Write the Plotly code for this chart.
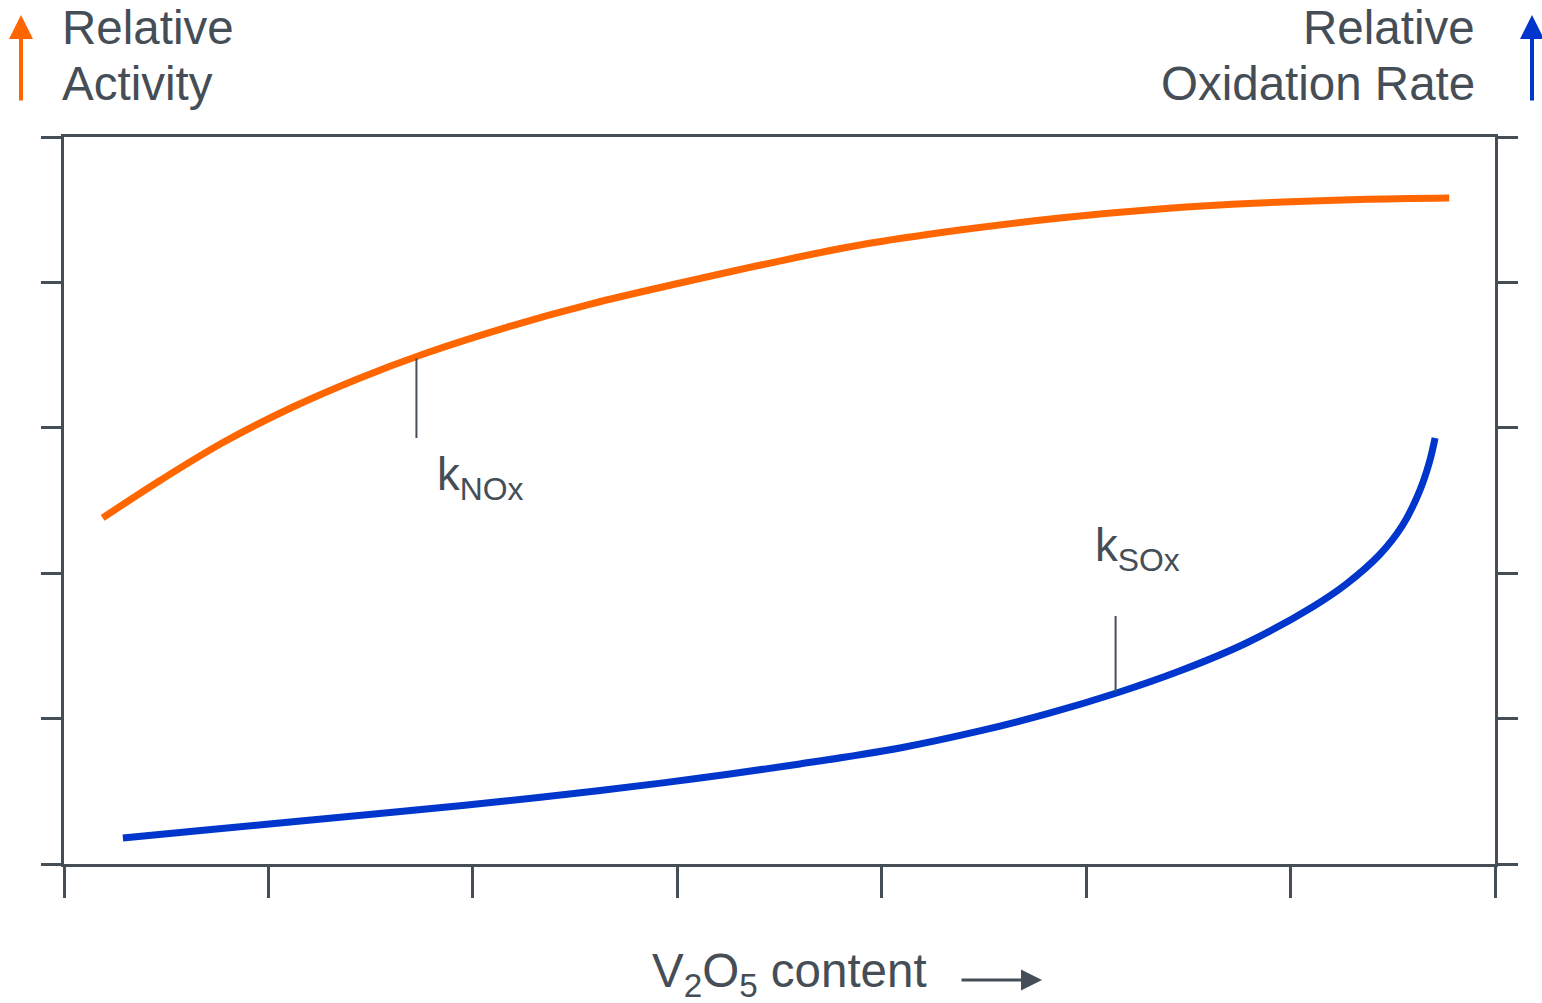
import plotly.graph_objects as go

# ---- data ----
nox_x = [0.189, 0.474, 0.782, 1.109, 1.436, 1.759, 2.169, 2.575, 3.014, 3.454, 3.893, 4.382,
         4.871, 5.359, 5.848, 6.336, 6.776]
nox_y = [2.380, 2.641, 2.902, 3.136, 3.336, 3.508, 3.693, 3.851, 3.996, 4.133, 4.257, 4.360,
         4.443, 4.505, 4.546, 4.570, 4.580]

sox_x = [0.288, 0.669, 1.158, 1.646, 2.135, 2.623, 3.112, 3.600, 4.089, 4.480, 4.807, 5.149, 5.457,
         5.784, 6.107, 6.273, 6.434, 6.546, 6.629, 6.678, 6.707]
sox_y = [0.179, 0.230, 0.296, 0.361, 0.430, 0.506, 0.591, 0.688, 0.798, 0.915, 1.032, 1.176, 1.327,
         1.520, 1.768, 1.926, 2.125, 2.325, 2.558, 2.758, 2.930]

x_ticks = [0, 1, 2, 3, 4, 5, 6, 7]
y_ticks = [0, 1, 2, 3, 4, 5]

nox_marker_x = [1.724, 1.724]
nox_marker_y = [3.478, 2.93]
sox_marker_x = [5.144, 5.144]
sox_marker_y = [1.706, 1.183]

ORANGE = "#ff6600"
BLUE = "#0036cc"
GREY = "#454e57"
FONT = "Liberation Sans, Arial, sans-serif"

W, H = 1542, 1003
L, R, T, B = 64, 47, 137, 139
PW, PH = W - L - R, H - T - B


def px(xp):
    return (xp - L) / PW


def py(yp):
    return (H - B - yp) / PH


fig = go.Figure()
fig.add_trace(go.Scatter(x=nox_x, y=nox_y, mode="lines",
                         line=dict(color=ORANGE, width=7, shape="spline", smoothing=1.0), hoverinfo="skip"))
fig.add_trace(go.Scatter(x=sox_x, y=sox_y, mode="lines",
                         line=dict(color=BLUE, width=7, shape="spline", smoothing=1.0), hoverinfo="skip"))
fig.add_trace(go.Scatter(x=nox_marker_x, y=nox_marker_y, mode="lines",
                         line=dict(color=GREY, width=2), hoverinfo="skip"))
fig.add_trace(go.Scatter(x=sox_marker_x, y=sox_marker_y, mode="lines",
                         line=dict(color=GREY, width=2), hoverinfo="skip"))

ann = []
txt = dict(size=47.5, color=GREY, family=FONT)
ksz = dict(size=45.5, color=GREY, family=FONT)
ann.append(dict(text="Relative", x=px(60), y=py(27), xanchor="left", yanchor="middle", font=txt))
ann.append(dict(text="Activity", x=px(60), y=py(84), xanchor="left", yanchor="middle", font=txt))
ann.append(dict(text="Relative", x=px(1477), y=py(27), xanchor="right", yanchor="middle", font=txt))
ann.append(dict(text="Oxidation Rate", x=px(1477), y=py(84), xanchor="right", yanchor="middle", font=txt))
ann.append(dict(text="k<sub>NOx</sub>", x=px(435), y=py(478), xanchor="left", yanchor="middle", font=ksz))
ann.append(dict(text="k<sub>SOx</sub>", x=px(1093), y=py(549), xanchor="left", yanchor="middle", font=ksz))
ann.append(dict(text="V<sub>2</sub>O<sub>5</sub> content", x=px(650), y=py(974), xanchor="left",
                yanchor="middle", font=txt))
# arrows
ann.append(dict(text="", x=px(21), y=py(15), ax=0, ay=87, showarrow=True, arrowhead=2,
                arrowsize=1.2, arrowwidth=4, arrowcolor=ORANGE))
ann.append(dict(text="", x=px(1532), y=py(15), ax=0, ay=87, showarrow=True, arrowhead=2,
                arrowsize=1.2, arrowwidth=4, arrowcolor=BLUE))
ann.append(dict(text="", x=px(1042), y=py(980), ax=-82, ay=0, showarrow=True, arrowhead=2,
                arrowsize=1.4, arrowwidth=3, arrowcolor=GREY))
for a in ann:
    a.setdefault("xref", "paper")
    a.setdefault("yref", "paper")
    a.setdefault("showarrow", False)

fig.update_layout(
    width=W, height=H,
    margin=dict(l=L, r=R, t=T, b=B),
    paper_bgcolor="white", plot_bgcolor="white",
    showlegend=False,
    annotations=ann,
    xaxis=dict(range=[0, 7], tickvals=x_ticks, showticklabels=False, showgrid=False, zeroline=False,
               showline=True, linecolor=GREY, linewidth=3, mirror=True,
               ticks="outside", ticklen=31, tickwidth=3, tickcolor=GREY),
    yaxis=dict(range=[0, 5], tickvals=y_ticks, showticklabels=False, showgrid=False, zeroline=False,
               showline=True, linecolor=GREY, linewidth=3, mirror="ticks",
               ticks="outside", ticklen=20, tickwidth=3, tickcolor=GREY),
)

fig.write_html("out.html", config={"displayModeBar": False},
               post_script="document.body.style.margin='0';")
